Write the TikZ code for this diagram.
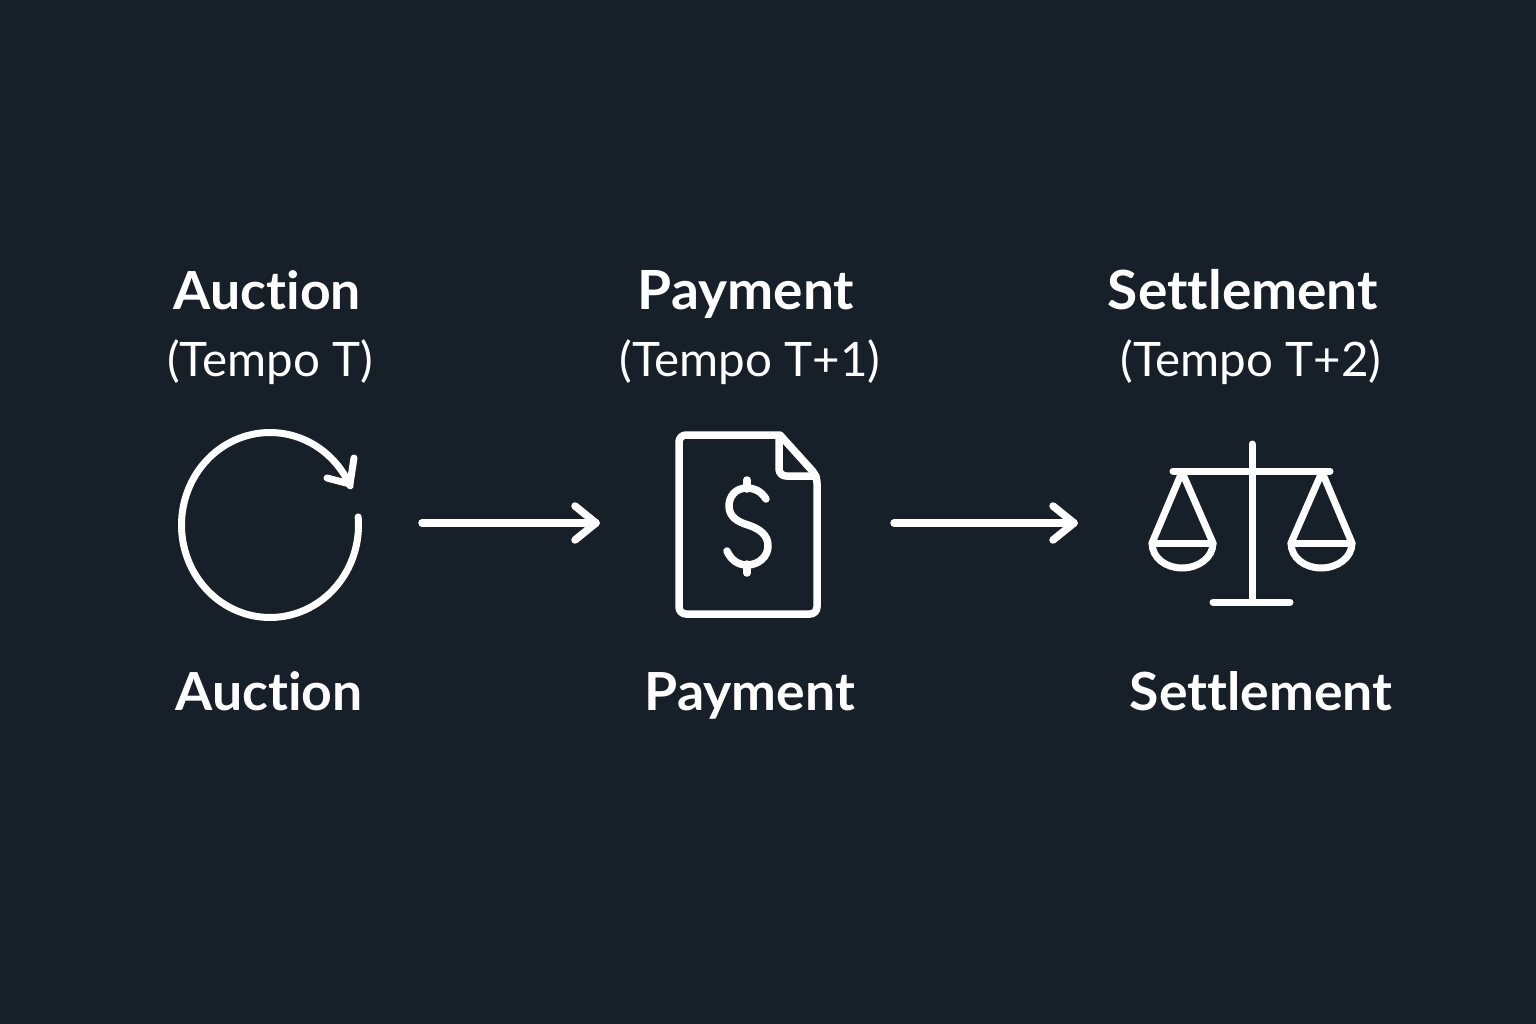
\documentclass[tikz,border=0pt]{standalone}
\usepackage{fontspec}
\setmainfont[Ligatures=NoCommon,Renderer=OpenType]{Lato}
\newfontfamily\headfont[Ligatures=NoCommon,FakeStretch=1.02,BoldFont={Lato Bold}]{Lato}
\definecolor{bg}{HTML}{171F29}
\tikzset{
  every picture/.style={x=1pt,y=-1pt},
  ln/.style={draw=white,line width=7pt,line cap=round,line join=round},
  docline/.style={ln,line width=7.5pt},
  flow/.style={ln,line width=7.5pt},
  head/.style={text=white,font=\fontsize{54}{60}\selectfont\headfont\bfseries,inner sep=0pt,anchor=base},
  foot/.style={head,font=\fontsize{52.5}{60}\selectfont\headfont\bfseries},
  sub/.style={text=white,font=\fontsize{47.5}{52}\selectfont,inner sep=0pt,anchor=base},
}
\begin{document}
\begin{tikzpicture}
\useasboundingbox (0,0) rectangle (1536,1024);
\fill[bg] (0,0) rectangle (1536,1024);
\node[foot] (t1) at (267.5,309) {Auction};
\node[sub] (s1) at (270,376) {(Tempo T)};
\node[head] (t2) at (746,309) {Payment};
\node[sub] (s2) at (750,376) {(Tempo T+1)};
\node[head] (t3) at (1243,309) {Settlement};
\node[sub] (s3) at (1251,376) {(Tempo T+2)};
\node[foot] (b1) at (269,710) {Auction};
\node[foot] (b2) at (750,710) {Payment};
\node[foot] (b3) at (1261,710) {Settlement};
% cycle icon
\draw[ln] plot[domain=-5:335,samples=120,smooth] ({270+88.5*cos(\x)},{525+92.5*sin(\x)});
\draw[ln] (354,458) -- (350,484) -- (327,478);
% document icon
\draw[docline,rounded corners=7pt] (780,435) -- (679,435) -- (679,614) -- (817,614) -- (817,476) -- (780,435);
\draw[docline,rounded corners=7pt] (779,437) -- (779,476) -- (816,476);
\draw[docline] (747,480) -- (747,489);
\draw[docline] (747,564) -- (747,573);
\draw[docline] (766,499) .. controls (761,491) and (754,488) .. (747,488)
   .. controls (735,488) and (729,497) .. (729,506)
   .. controls (729,517) and (738,522) .. (748,525)
   .. controls (760,529) and (768,535) .. (768,546)
   .. controls (768,557) and (758,565) .. (747,565)
   .. controls (738,565) and (731,560) .. (727,551);
% scales icon
\draw[ln] (1252,444) -- (1252,602);
\draw[ln] (1213,602) -- (1290,602);
\draw[ln] (1173,471) -- (1330,471);
\draw[ln] (1182,472) -- (1152,543) (1182,472) -- (1213,543);
\draw[ln] (1322,472) -- (1291,543) (1322,472) -- (1352,543);
\draw[ln] (1152,543) -- (1213,543);
\draw[ln] (1291,543) -- (1352,543);
\draw[ln] (1152,543) .. controls (1152,558) and (1166,568) .. (1182,568) .. controls (1198,568) and (1213,558) .. (1213,543);
\draw[ln] (1291,543) .. controls (1291,558) and (1305,568) .. (1321,568) .. controls (1337,568) and (1352,558) .. (1352,543);
% connectors
\coordinate (a1s) at (422,523); \coordinate (a1e) at (596,523);
\coordinate (a1u) at (575,506); \coordinate (a1d) at (575,540);
\coordinate (a2s) at (894,523); \coordinate (a2e) at (1074,523);
\coordinate (a2u) at (1053,506); \coordinate (a2d) at (1053,540);
\draw[flow] (a1s) -- (a1e);
\draw[flow] (a1u) -- (a1e) -- (a1d);
\draw[flow] (a2s) -- (a2e);
\draw[flow] (a2u) -- (a2e) -- (a2d);
\end{tikzpicture}
\end{document}
